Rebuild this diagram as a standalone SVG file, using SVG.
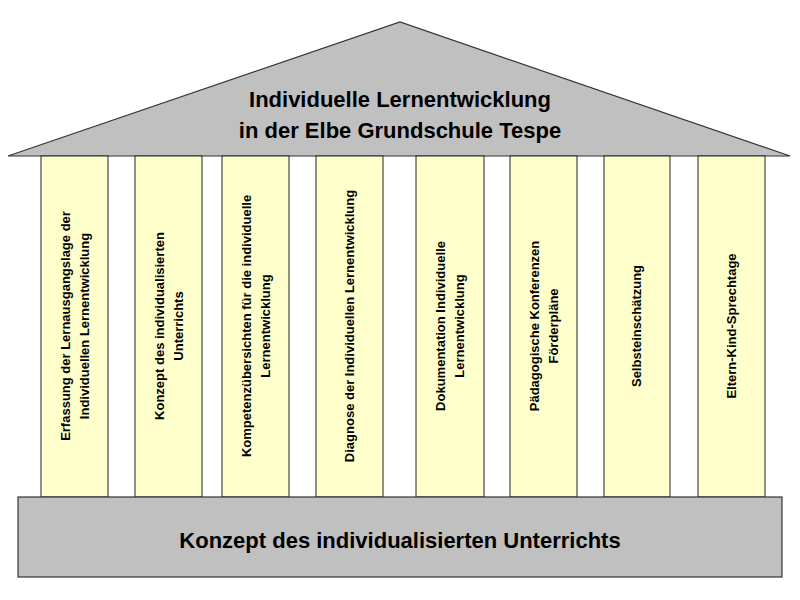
<svg xmlns="http://www.w3.org/2000/svg" width="800" height="600" viewBox="0 0 800 600">
<style>
.g{fill:#c0c0c0;stroke:#333;stroke-width:1.2}
.p{fill:#ffffcc;stroke:#222;stroke-width:1}
.t{font-family:"Liberation Sans",Arial,sans-serif;font-weight:bold;font-size:13px;fill:#000;text-anchor:middle}
.h{font-family:"Liberation Sans",Arial,sans-serif;font-weight:bold;font-size:22px;fill:#000;text-anchor:middle}
</style>
<rect width="800" height="600" fill="#fff"/>
<g id="roof"><polygon class="g" points="8,156 400,22 790,156"/>
<text class="h" x="400" y="107">Individuelle Lernentwicklung</text>
<text class="h" x="400" y="138">in der Elbe Grundschule Tespe</text></g>
<g id="p1"><rect class="p" x="41" y="156" width="67" height="341"/>
<text class="t" transform="translate(75,326) rotate(-90)"><tspan x="0" y="-5">Erfassung der Lernausgangslage der</tspan><tspan x="0" y="14">Individuellen Lernentwicklung</tspan></text></g>
<g id="p2"><rect class="p" x="135" y="156" width="67" height="341"/>
<text class="t" transform="translate(169,326) rotate(-90)"><tspan x="0" y="-5">Konzept des individualisierten</tspan><tspan x="0" y="14">Unterrichts</tspan></text></g>
<g id="p3"><rect class="p" x="222" y="156" width="67" height="341"/>
<text class="t" transform="translate(256,326) rotate(-90)"><tspan x="0" y="-5">Kompetenzübersichten für die individuelle</tspan><tspan x="0" y="14">Lernentwicklung</tspan></text></g>
<g id="p4"><rect class="p" x="316" y="156" width="67" height="341"/>
<text class="t" transform="translate(350,326) rotate(-90)"><tspan x="0" y="4">Diagnose der Individuellen Lernentwicklung</tspan></text></g>
<g id="p5"><rect class="p" x="416" y="156" width="68" height="341"/>
<text class="t" transform="translate(450,326) rotate(-90)"><tspan x="0" y="-5">Dokumentation Individuelle</tspan><tspan x="0" y="14">Lernentwicklung</tspan></text></g>
<g id="p6"><rect class="p" x="510" y="156" width="67" height="341"/>
<text class="t" transform="translate(544,326) rotate(-90)"><tspan x="0" y="-5">Pädagogische Konferenzen</tspan><tspan x="0" y="14">Förderpläne</tspan></text></g>
<g id="p7"><rect class="p" x="604" y="156" width="66" height="341"/>
<text class="t" transform="translate(637,326) rotate(-90)"><tspan x="0" y="4">Selbsteinschätzung</tspan></text></g>
<g id="p8"><rect class="p" x="698" y="156" width="67" height="341"/>
<text class="t" transform="translate(732,326) rotate(-90)"><tspan x="0" y="4">Eltern-Kind-Sprechtage</tspan></text></g>
<g id="base"><rect class="g" x="18" y="497" width="764" height="80"/>
<text class="h" x="400" y="548" font-size="24">Konzept des individualisierten Unterrichts</text></g>
<g id="connectors"/>
</svg>
